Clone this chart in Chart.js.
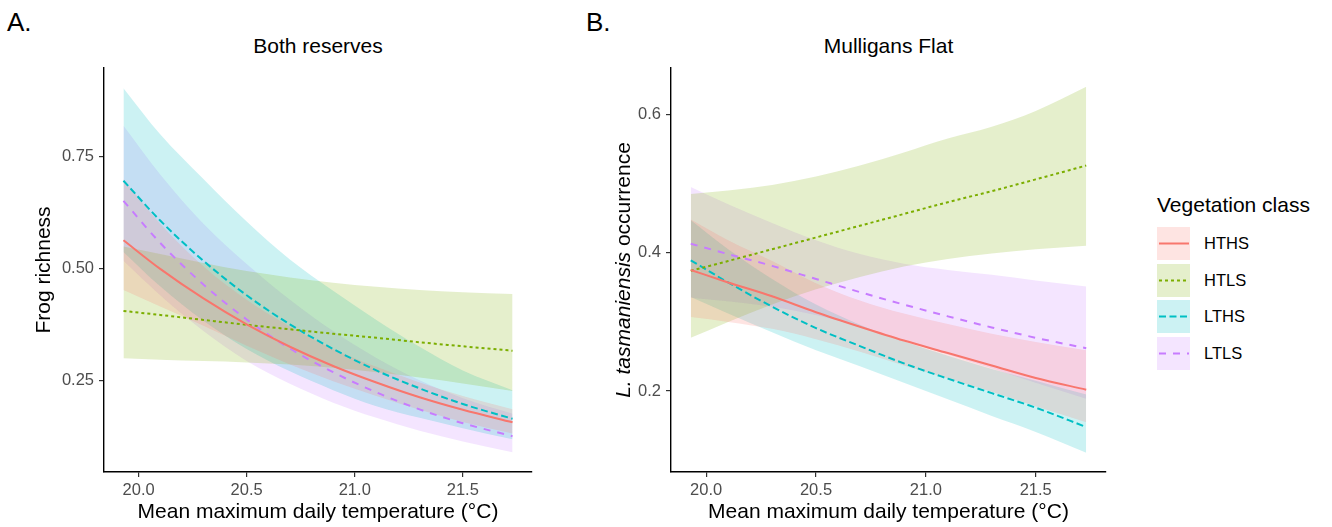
<!DOCTYPE html>
<html>
<head>
<meta charset="utf-8">
<script src="https://cdn.jsdelivr.net/npm/chart.js@4.4.1/dist/chart.umd.min.js"></script>
<style>
  body { margin: 0; background: #fff; width: 1332px; height: 527px; overflow: hidden; position: relative;
         font-family: "Liberation Sans", Arial, sans-serif; color: #000; }
  canvas { position: absolute; top: 0; }
  .tag { position: absolute; top: 9px; font-size: 26px; line-height: 26px; }
  .ptitle { position: absolute; top: 35px; font-size: 21px; line-height: 21px; text-align: center; }
  #ytitle-b { position: absolute; width: 300px; left: 473px; top: 259px; font-size: 21px; line-height: 22px;
              text-align: center; transform: rotate(-90deg); transform-origin: 150px 11px; white-space: nowrap; }
  #legend { position: absolute; left: 1157px; top: 194px; }
  #legend .ltitle { font-size: 21px; line-height: 21px; margin-bottom: 12px; white-space: nowrap; }
  #legend .item { display: flex; align-items: center; height: 33px; margin-bottom: 3.6px; }
  #legend .item span { font-size: 16.5px; margin-left: 14px; }
  #legend svg { display: block; }
</style>
</head>
<body>
<div class="tag" style="left:7px">A.</div>
<div class="tag" style="left:586px">B.</div>
<div class="ptitle" style="left:104px; width:428px">Both reserves</div>
<div class="ptitle" style="left:671px; width:435px">Mulligans Flat</div>
<canvas id="chartA" width="560" height="527" style="left:0"></canvas>
<canvas id="chartB" width="560" height="527" style="left:560px"></canvas>
<div id="ytitle-b"><i>L. tasmaniensis</i> occurrence</div>
<div id="legend"><div class="ltitle">Vegetation class</div></div>

<script>
// Temperatures at which the fitted curves were read
const temps = [19.93, 20.1, 20.3, 20.5, 20.7, 20.9, 21.1, 21.3, 21.5, 21.73];
const xTicks = [20.0, 20.5, 21.0, 21.5];
const aYTicks = [0.25, 0.50, 0.75];
const bYTicks = [0.2, 0.4, 0.6];

const groups = ['HTHS', 'HTLS', 'LTHS', 'LTLS'];

// A. Both reserves - frog richness
const aHTHS   = [0.563, 0.499, 0.433, 0.375, 0.325, 0.282, 0.245, 0.212, 0.184, 0.156];
const aHTHSlo = [0.452, 0.415, 0.372, 0.327, 0.285, 0.248, 0.215, 0.184, 0.157, 0.131];
const aHTHShi = [0.700, 0.600, 0.505, 0.430, 0.370, 0.320, 0.280, 0.245, 0.215, 0.185];
const aHTLS   = [0.405, 0.396, 0.385, 0.374, 0.364, 0.354, 0.345, 0.335, 0.326, 0.316];
const aHTLSlo = [0.299, 0.296, 0.293, 0.290, 0.285, 0.278, 0.268, 0.256, 0.243, 0.226];
const aHTLShi = [0.549, 0.532, 0.512, 0.494, 0.480, 0.468, 0.459, 0.452, 0.447, 0.443];
const aLTHS   = [0.696, 0.607, 0.517, 0.440, 0.375, 0.320, 0.272, 0.232, 0.197, 0.164];
const aLTHSlo = [0.537, 0.460, 0.383, 0.320, 0.270, 0.228, 0.192, 0.166, 0.143, 0.118];
const aLTHShi = [0.903, 0.800, 0.700, 0.605, 0.520, 0.450, 0.385, 0.325, 0.272, 0.228];
const aLTLS   = [0.651, 0.557, 0.464, 0.386, 0.321, 0.268, 0.223, 0.185, 0.154, 0.125];
const aLTLSlo = [0.517, 0.440, 0.360, 0.293, 0.242, 0.200, 0.166, 0.137, 0.113, 0.089];
const aLTLShi = [0.819, 0.710, 0.600, 0.510, 0.430, 0.360, 0.300, 0.250, 0.210, 0.175];

// B. Mulligans Flat - L. tasmaniensis occurrence
const bHTHS   = [0.375, 0.357, 0.337, 0.314, 0.293, 0.273, 0.255, 0.237, 0.219, 0.202];
const bHTHSlo = [0.307, 0.300, 0.290, 0.275, 0.257, 0.237, 0.218, 0.199, 0.178, 0.155];
const bHTHShi = [0.448, 0.418, 0.388, 0.356, 0.331, 0.312, 0.297, 0.283, 0.271, 0.259];
const bHTLS   = [0.374, 0.388, 0.405, 0.422, 0.439, 0.456, 0.473, 0.489, 0.506, 0.526];
const bHTLSlo = [0.277, 0.300, 0.325, 0.347, 0.365, 0.380, 0.391, 0.399, 0.405, 0.410];
const bHTLShi = [0.485, 0.490, 0.498, 0.510, 0.526, 0.545, 0.565, 0.582, 0.605, 0.640];
const bLTHS   = [0.389, 0.357, 0.322, 0.291, 0.265, 0.240, 0.218, 0.197, 0.176, 0.148];
const bLTHSlo = [0.336, 0.312, 0.285, 0.259, 0.236, 0.212, 0.188, 0.164, 0.141, 0.111];
const bLTHShi = [0.447, 0.405, 0.362, 0.325, 0.296, 0.272, 0.251, 0.232, 0.215, 0.195];
const bLTLS   = [0.413, 0.398, 0.381, 0.362, 0.343, 0.325, 0.308, 0.292, 0.277, 0.262];
const bLTLSlo = [0.335, 0.330, 0.322, 0.310, 0.293, 0.273, 0.253, 0.233, 0.212, 0.189];
const bLTLShi = [0.495, 0.470, 0.443, 0.418, 0.398, 0.384, 0.375, 0.368, 0.360, 0.351];

const lineColors = ['#F8766D', '#7CAE00', '#00BFC4', '#C77CFF'];
const fillColors = ['rgba(248,118,109,0.2)', 'rgba(124,174,0,0.2)', 'rgba(0,191,196,0.2)', 'rgba(199,124,255,0.2)'];
const dashes = [[], [3, 3], [7, 3.5], [7, 7]];
const FONT = '"Liberation Sans", Arial, sans-serif';

function pts(ys) {
    return temps.map((x, i) => ({ x: x, y: ys[i] }));
}

function buildDatasets(means, lows, highs) {
    const ds = [];
    // ribbons first (lower bound, then upper filled down to it)
    groups.forEach((g, i) => {
        ds.push({ label: g + ' lower', data: pts(lows[i]), borderWidth: 0, borderColor: 'transparent', fill: false, pointRadius: 0 });
        ds.push({ label: g + ' upper', data: pts(highs[i]), borderWidth: 0, borderColor: 'transparent', backgroundColor: fillColors[i], fill: '-1', pointRadius: 0 });
    });
    // fitted lines on top
    groups.forEach((g, i) => {
        ds.push({ label: g, data: pts(means[i]), borderColor: lineColors[i], borderWidth: 2, borderDash: dashes[i], fill: false, pointRadius: 0 });
    });
    return ds;
}

function scaleOpts(min, max, ticks, decimals, axisSize, vertical, titleText, titlePad) {
    return {
        type: 'linear',
        min: min,
        max: max,
        afterBuildTicks: s => { s.ticks = ticks.map(v => ({ value: v })); },
        afterFit: s => { if (vertical) s.width = axisSize; else s.height = axisSize; },
        ticks: { callback: v => Number(v).toFixed(decimals), color: '#4D4D4D', font: { family: FONT, size: 16.5 }, padding: vertical ? 5 : 4, maxRotation: 0 },
        grid: { display: true, drawOnChartArea: false, drawTicks: true, tickLength: 5, color: '#333', lineWidth: 1.2 },
        border: { display: true, color: '#000', width: 1.4 },
        title: { display: !!titleText, text: titleText, color: '#000', font: { family: FONT, size: 21 }, padding: titlePad }
    };
}

function makeChart(id, means, lows, highs, yMin, yMax, yTicks, yDec, yWidth, yTitle, rightPad) {
    return new Chart(document.getElementById(id).getContext('2d'), {
        type: 'line',
        data: { datasets: buildDatasets(means, lows, highs) },
        options: {
            responsive: false,
            animation: false,
            devicePixelRatio: 1,
            layout: { padding: { top: 68, left: 0, right: rightPad, bottom: 0 } },
            elements: { line: { cubicInterpolationMode: 'monotone' } },
            plugins: { legend: { display: false }, tooltip: { enabled: false }, filler: { drawTime: 'beforeDatasetsDraw' } },
            scales: {
                x: scaleOpts(19.84, 21.82, xTicks, 1, 55, false, 'Mean maximum daily temperature (\u00B0C)', { top: 0, bottom: 2 }),
                y: scaleOpts(yMin, yMax, yTicks, yDec, yWidth, true, yTitle, { top: 32, bottom: 0 })
            }
        }
    });
}

function buildLegend() {
    const box = document.getElementById('legend');
    groups.forEach((g, i) => {
        const item = document.createElement('div');
        item.className = 'item';
        const dash = dashes[i].length ? dashes[i].join(' ') : 'none';
        item.innerHTML = '<svg width="33" height="33"><rect width="33" height="33" fill="' + fillColors[i] + '"/>' +
            '<line x1="2" y1="16.5" x2="32" y2="16.5" stroke="' + lineColors[i] + '" stroke-width="2" stroke-dasharray="' + dash + '"/></svg>' +
            '<span>' + g + '</span>';
        box.appendChild(item);
    });
}

makeChart('chartA', [aHTHS, aHTLS, aLTHS, aLTLS], [aHTHSlo, aHTLSlo, aLTHSlo, aLTLSlo], [aHTHShi, aHTLShi, aLTHShi, aLTLShi],
    0.045, 0.948, aYTicks, 2, 104, 'Frog richness', 28);
makeChart('chartB', [bHTHS, bHTLS, bLTHS, bLTLS], [bHTHSlo, bHTLSlo, bLTHSlo, bLTLSlo], [bHTHShi, bHTLShi, bLTHShi, bLTLShi],
    0.083, 0.667, bYTicks, 1, 111, '', 14);
buildLegend();
</script>
</body>
</html>
